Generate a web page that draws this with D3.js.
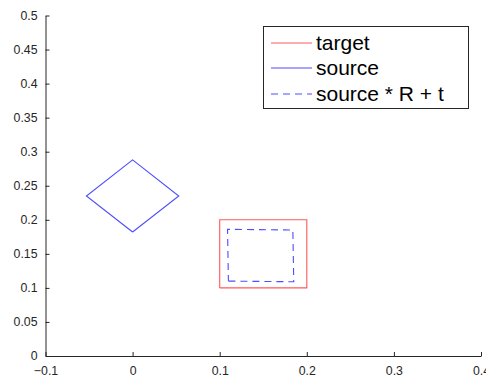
<!DOCTYPE html>
<html>
<head>
<meta charset="utf-8">
<script src="https://cdn.jsdelivr.net/npm/d3@7"></script>
<style>
  html, body { margin: 0; padding: 0; background: #fff; }
  svg { display: block; }
  .axis text { font-family: "Liberation Sans", Arial, sans-serif; font-size: 12.3px; fill: #262626; }
  .axis path, .axis line { stroke: #262626; }
  .legend text { font-family: "Liberation Sans", Arial, sans-serif; font-size: 21px; fill: #000; }
</style>
</head>
<body>
<svg id="chart" width="486" height="378"></svg>
<script>
// Axis ranges and tick values
const xDomain = [-0.1, 0.4];
const yDomain = [0, 0.5];
const xTicks = [-0.1, 0, 0.1, 0.2, 0.3, 0.4];
const yTicks = [0, 0.05, 0.1, 0.15, 0.2, 0.25, 0.3, 0.35, 0.4, 0.45, 0.5];

// Closed outlines (first point repeated at the end)
const targetX = [0.1, 0.2, 0.2, 0.1, 0.1];
const targetY = [0.1, 0.1, 0.2, 0.2, 0.1];

const sourceX = [0, 0.053, 0, -0.053, 0];
const sourceY = [0.182, 0.235, 0.288, 0.235, 0.182];

const fittedX = [0.110, 0.185, 0.184, 0.109, 0.110];
const fittedY = [0.110, 0.109, 0.185, 0.186, 0.110];

const seriesNames = ["target", "source", "source * R + t"];
const seriesColors = ["#ff3030", "#2020ff", "#2020ff"];

const svg = d3.select("#chart");
const plotLeft = 45.5, plotRight = 481, plotTop = 15.5, plotBottom = 356;

const x = d3.scaleLinear().domain(xDomain).range([plotLeft, plotRight]);
const y = d3.scaleLinear().domain(yDomain).range([plotBottom, plotTop]);

const fmt = d => d3.format("")(+d.toFixed(2));

// Bottom axis with inward ticks
svg.append("g")
  .attr("class", "axis")
  .attr("transform", `translate(0,${plotBottom})`)
  .call(d3.axisBottom(x).tickValues(xTicks).tickFormat(fmt)
    .tickSizeInner(-4).tickSizeOuter(0).tickPadding(10));

// Left axis with inward ticks
svg.append("g")
  .attr("class", "axis")
  .attr("transform", `translate(${plotLeft},0)`)
  .call(d3.axisLeft(y).tickValues(yTicks).tickFormat(fmt)
    .tickSizeInner(-4).tickSizeOuter(0).tickPadding(8));

const line = d3.line();
function outline(xs, ys) {
  return line(xs.map((v, i) => [x(v), y(ys[i])]));
}

const plot = svg.append("g");
plot.append("path")
  .attr("d", outline(targetX, targetY))
  .attr("fill", "none").attr("stroke", seriesColors[0]).attr("stroke-width", 1.1)
  .attr("stroke-opacity", 0.8);
plot.append("path")
  .attr("d", outline(sourceX, sourceY))
  .attr("fill", "none").attr("stroke", seriesColors[1]).attr("stroke-width", 1.1)
  .attr("stroke-opacity", 0.8);
plot.append("path")
  .attr("d", outline(fittedX, fittedY))
  .attr("fill", "none").attr("stroke", seriesColors[2]).attr("stroke-width", 1.1)
  .attr("stroke-opacity", 0.8)
  .attr("stroke-dasharray", "7,5");

// Legend
const lg = svg.append("g").attr("class", "legend");
lg.append("rect")
  .attr("x", 263.5).attr("y", 26.5).attr("width", 205).attr("height", 82)
  .attr("fill", "#fff").attr("stroke", "#262626").attr("stroke-width", 1);
const rowY = [43, 68, 94];
seriesNames.forEach((name, i) => {
  lg.append("line")
    .attr("x1", 271).attr("x2", 312).attr("y1", rowY[i]).attr("y2", rowY[i])
    .attr("stroke", seriesColors[i]).attr("stroke-width", 1.1)
    .attr("stroke-opacity", 0.8)
    .attr("stroke-dasharray", i === 2 ? "7,5" : null);
  lg.append("text")
    .attr("x", 316).attr("y", rowY[i]).attr("dy", "0.35em")
    .text(name);
});
</script>
</body>
</html>
